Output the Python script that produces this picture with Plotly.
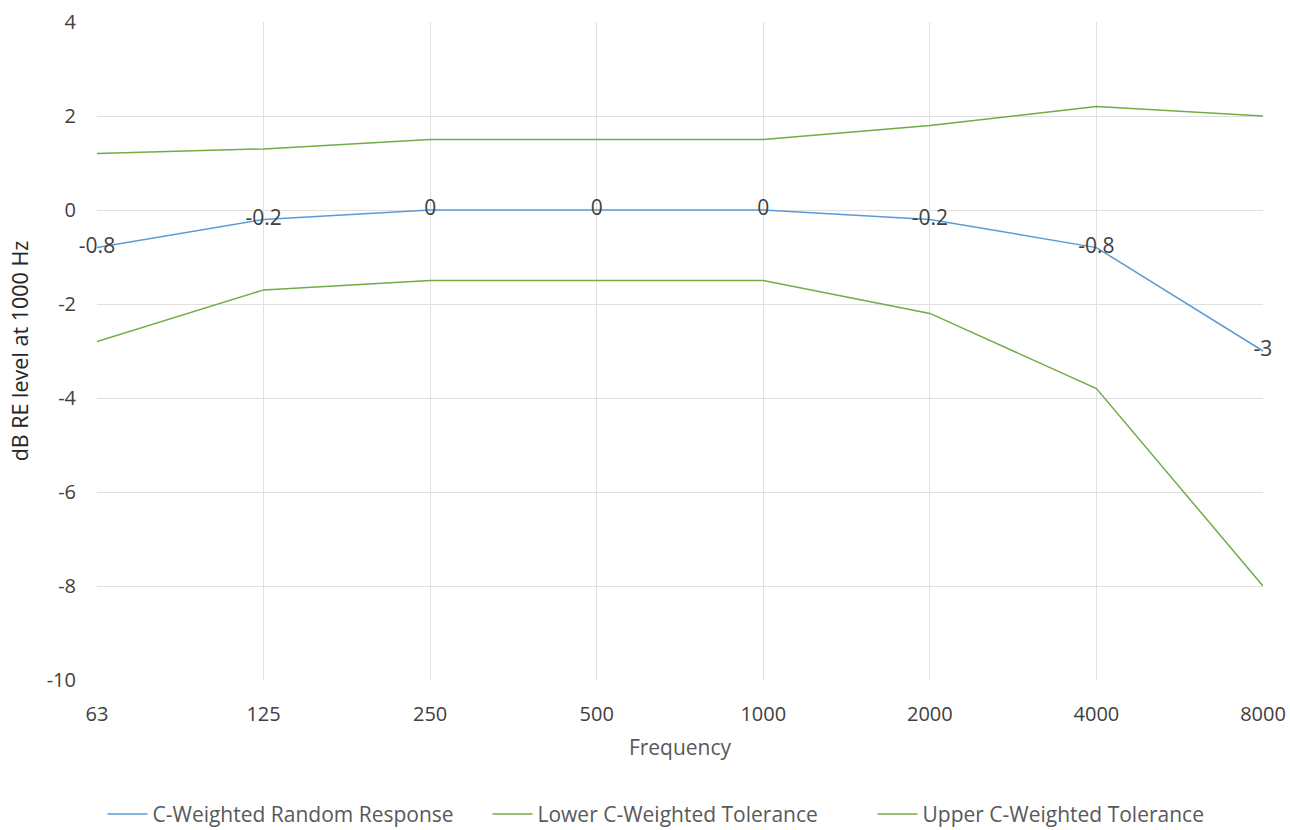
import plotly.graph_objects as go

# Datos
frequency = ["63", "125", "250", "500", "1000", "2000", "4000", "8000"]
random_response = [-0.8, -0.2, 0, 0, 0, -0.2, -0.8, -3]
lower_tolerance = [-2.8, -1.7, -1.5, -1.5, -1.5, -2.2, -3.8, -8.0]
upper_tolerance = [1.2, 1.3, 1.5, 1.5, 1.5, 1.8, 2.2, 2.0]
y_ticks = [-10, -8, -6, -4, -2, 0, 2, 4]

blue = "#5B9BD5"
green = "#70AD47"
grid = "#E0E0E0"
txt = "#595959"
font_family = "'Open Sans', sans-serif"

fig = go.Figure()

fig.add_trace(go.Scatter(
    x=frequency, y=random_response,
    mode="lines+text",
    name="C-Weighted Random Response",
    text=[str(v) for v in random_response],
    textposition="middle center",
    textfont=dict(size=21, color="#404040", family=font_family),
    cliponaxis=False,
    line=dict(color=blue, width=1.5),
))

fig.add_trace(go.Scatter(
    x=frequency, y=lower_tolerance,
    mode="lines",
    name="Lower C-Weighted Tolerance",
    line=dict(color=green, width=1.5),
))

fig.add_trace(go.Scatter(
    x=frequency, y=upper_tolerance,
    mode="lines",
    name="Upper C-Weighted Tolerance",
    line=dict(color=green, width=1.5),
))

fig.update_layout(
    width=1290, height=830,
    margin=dict(l=97, r=27, t=22, b=150),
    plot_bgcolor="white", paper_bgcolor="white",
    font=dict(family=font_family, size=20, color=txt),
    showlegend=True,
    legend=dict(
        orientation="h", x=0.5, xanchor="center",
        yref="container", y=0.019, yanchor="middle",
        font=dict(size=21, color=txt), itemwidth=40, tracegroupgap=0,
        entrywidth=330,
    ),
)

fig.update_xaxes(
    type="category", range=[0, 7], automargin=False,
    showgrid=True, gridcolor=grid, gridwidth=1,
    zeroline=False, showline=False, ticks="",
    ticklabelstandoff=20,
    tickfont=dict(size=20, color="#404040"),
    title=dict(text="Frequency", font=dict(size=21, color=txt), standoff=14),
)

fig.update_yaxes(
    range=[-10, 4], automargin=False,
    tickvals=y_ticks, ticktext=[str(v) for v in y_ticks],
    showgrid=True, gridcolor=grid, gridwidth=1,
    zeroline=False, showline=False, ticks="",
    ticklabelstandoff=20,
    tickfont=dict(size=20, color="#404040"),
    title=dict(text="dB RE level at 1000 Hz", font=dict(size=21.5, color="#262626"), standoff=12),
)

# quitar el margen por defecto del body para que el lienzo ocupe toda la ventana
fig.write_html(
    "out.html",
    config={"displayModeBar": False},
    post_script="document.body.style.margin = '0';",
)
